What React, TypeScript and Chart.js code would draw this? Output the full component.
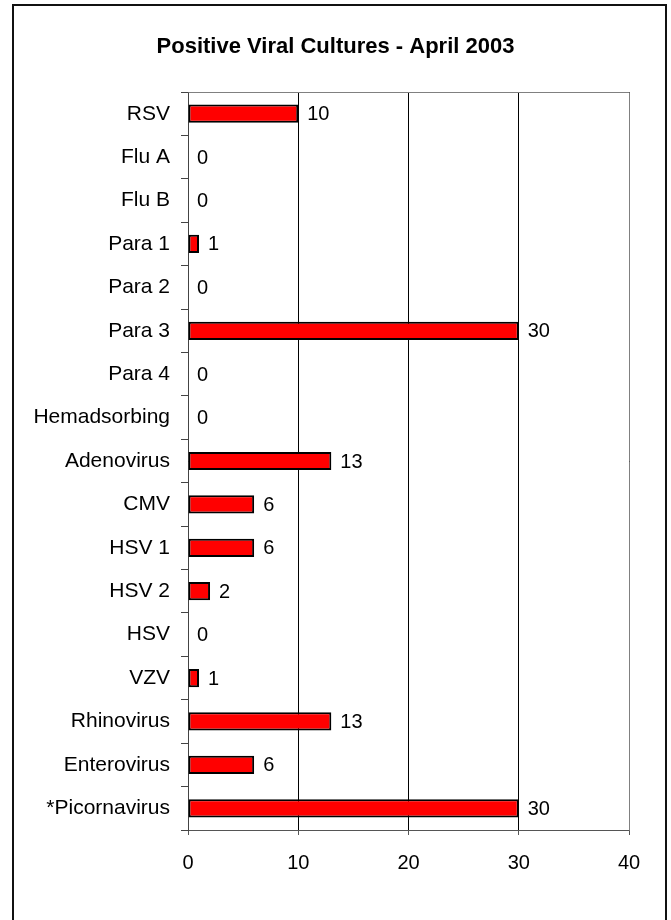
import React, { useEffect, useRef } from 'react';
import { Chart, registerables } from 'chart.js';

Chart.register(...registerables);

const chartTitle = 'Positive Viral Cultures - April 2003';
const categories = [
  'RSV', 'Flu A', 'Flu B', 'Para 1', 'Para 2', 'Para 3', 'Para 4', 'Hemadsorbing',
  'Adenovirus', 'CMV', 'HSV 1', 'HSV 2', 'HSV', 'VZV', 'Rhinovirus', 'Enterovirus', '*Picornavirus',
];
const cultureCounts = [10, 0, 0, 1, 0, 30, 0, 0, 13, 6, 6, 2, 0, 1, 13, 6, 30];
const axisMin = 0;
const axisMax = 40;
const axisStep = 10;

const FONT = '"Liberation Sans", Arial, Helvetica, sans-serif';
const CAT_SIZE = 21;
const NUM_SIZE = 20;

const valueLabels = {
  id: 'valueLabels',
  afterDatasetsDraw(chart: any) {
    const ctx = chart.ctx;
    const meta = chart.getDatasetMeta(0);
    const data = chart.data.datasets[0].data;
    ctx.save();
    ctx.font = `${NUM_SIZE}px ${FONT}`;
    ctx.fillStyle = '#000';
    ctx.textAlign = 'left';
    ctx.textBaseline = 'middle';
    meta.data.forEach((bar: any, i: number) => {
      ctx.fillText(String(data[i]), bar.x + 9, bar.y + 1);
    });
    ctx.restore();
  },
};

const frame = {
  id: 'frame',
  beforeDatasetsDraw(chart: any) {
    const { ctx, chartArea } = chart;
    ctx.save();
    ctx.strokeStyle = '#808080';
    ctx.lineWidth = 1;
    ctx.beginPath();
    ctx.moveTo(Math.round(chartArea.left) + 0.5, Math.round(chartArea.top) + 0.5);
    ctx.lineTo(Math.round(chartArea.right) + 0.5, Math.round(chartArea.top) + 0.5);
    ctx.lineTo(Math.round(chartArea.right) + 0.5, Math.round(chartArea.bottom) + 0.5);
    ctx.stroke();
    ctx.restore();
  },
  afterDraw(chart: any) {
    const ctx = chart.ctx;
    ctx.save();
    ctx.strokeStyle = '#111';
    ctx.lineWidth = 2;
    ctx.strokeRect(13, 5, chart.width - 18, chart.height + 20);
    ctx.restore();
  },
};

export default function App() {
  const ref = useRef<HTMLCanvasElement | null>(null);

  useEffect(() => {
    if (!ref.current) return;
    const chart = new Chart(ref.current, {
      type: 'bar',
      data: {
        labels: categories,
        datasets: [
          {
            data: cultureCounts,
            backgroundColor: '#FF0000',
            borderColor: '#000000',
            borderWidth: (c: any) => (c.raw === 0 ? 0 : 2),
            borderSkipped: false,
            barPercentage: 0.42,
            categoryPercentage: 1,
          },
        ],
      },
      options: {
        indexAxis: 'y',
        responsive: false,
        animation: false,
        layout: { padding: 0 },
        plugins: {
          legend: { display: false },
          tooltip: { enabled: false },
          title: {
            display: true,
            text: chartTitle,
            color: '#000',
            font: { family: FONT, size: 22, weight: 'bold', lineHeight: 1.2 },
            padding: { top: 33.8, bottom: 31.8 },
          },
        },
        scales: {
          x: {
            type: 'linear',
            min: axisMin,
            max: axisMax,
            ticks: {
              stepSize: axisStep,
              color: '#000',
              font: { family: FONT, size: NUM_SIZE },
              padding: 16,
            },
            grid: {
              color: '#000',
              lineWidth: 1,
              tickLength: 5,
              tickColor: '#555',
              drawOnChartArea: true,
            },
            border: { display: true, color: '#555', width: 1 },
            afterFit: (s: any) => {
              s.height = 90;
            },
          },
          y: {
            type: 'category',
            ticks: {
              color: '#000',
              font: { family: FONT, size: CAT_SIZE },
              padding: 11,
            },
            grid: {
              offset: true,
              drawOnChartArea: false,
              tickLength: 7,
              tickColor: '#444',
            },
            border: { display: true, color: '#444', width: 1 },
            afterFit: (s: any) => {
              s.width = 188;
            },
          },
          yr: {
            type: 'linear',
            position: 'right',
            display: true,
            ticks: { display: false },
            grid: { display: false },
            border: { display: false },
            afterFit: (s: any) => {
              s.width = 42;
            },
          },
        },
      },
      plugins: [valueLabels, frame],
    } as any);
    return () => chart.destroy();
  }, []);

  return (
    <>
      <style>{'html,body{margin:0;padding:0;background:#fff;}'}</style>
      <canvas ref={ref} width={671} height={920} style={{ display: 'block', width: 671, height: 920 }} />
    </>
  );
}
